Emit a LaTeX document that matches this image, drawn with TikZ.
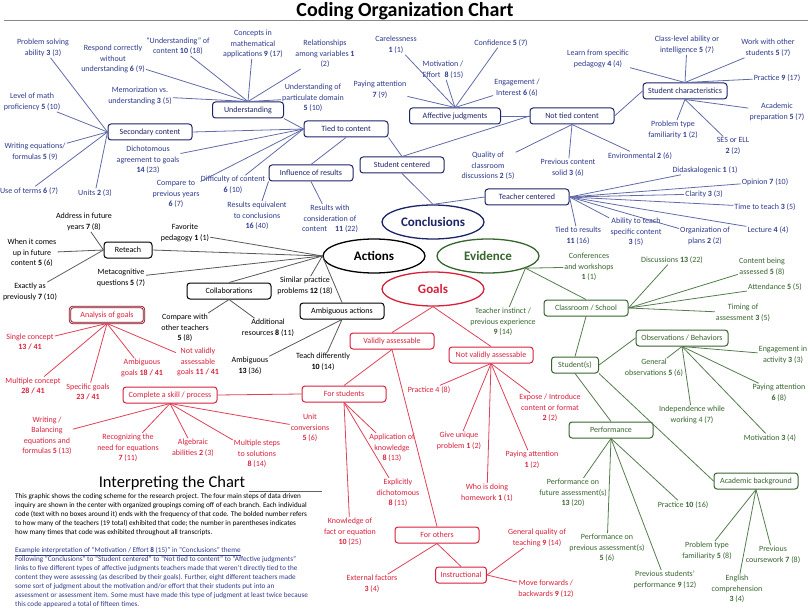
\documentclass[tikz,border=0pt]{standalone}
\usepackage{fontspec}
\setmainfont{Carlito}
\usetikzlibrary{shapes.geometric}
\definecolor{cocNavy}{HTML}{1B2466}
\definecolor{cocBlue}{HTML}{2E3A8C}
\definecolor{cocRed}{HTML}{D8203B}
\definecolor{cocDark}{HTML}{8B1020}
\definecolor{cocGreen}{HTML}{36652E}
\definecolor{cocGray}{HTML}{3A3A3A}
\tikzset{
  themenode/.style args={#1}{
    ellipse,
    draw=#1,
    fill=white,
    line width=1.3pt,
    minimum width=102pt,
    minimum height=34pt,
    text=#1,
    font=\fontsize{13}{15}\selectfont\bfseries
  },
  groupbox/.style args={#1}{
    rounded corners=3pt,
    draw=#1,
    fill=white,
    line width=1pt,
    minimum width=84pt,
    minimum height=16pt,
    inner xsep=5pt,
    inner ysep=2pt,
    text=#1,
    font=\fontsize{8}{10}\selectfont
  },
  codetext/.style args={#1}{
    text=#1,
    align=center,
    inner sep=1pt,
    font=\fontsize{8}{10.5}\selectfont
  },
  conclink/.style={draw=cocBlue!75, line width=0.8pt},
  actlink/.style={draw=cocGray!85, line width=0.8pt},
  goallink/.style={draw=cocRed!85, line width=0.8pt},
  evidlink/.style={draw=cocGreen!85, line width=0.8pt}
}

\begin{document}
\begin{tikzpicture}[x=1pt,y=-1pt]
\useasboundingbox (0,0) rectangle (810,612);

\node[font=\fontsize{20}{24}\selectfont\bfseries] (title) at (405,11) {Coding Organization Chart};
\draw[cocGray!60, line width=0.9pt] (4,20) -- (808,20);

% conclusions
\node[themenode=cocNavy] (concl) at (433,222) {Conclusions};
\node[groupbox=cocNavy, minimum width=71pt] (und) at (248,110) {Understanding};
\node[groupbox=cocNavy] (sec) at (150,132) {Secondary content};
\node[groupbox=cocNavy] (tied) at (346,129) {Tied to content};
\node[groupbox=cocNavy] (infl) at (311,173) {Influence of results};
\node[groupbox=cocNavy] (stuCen) at (402,165) {Student centered};
\node[groupbox=cocNavy] (tchCen) at (527,197) {Teacher centered};
\node[groupbox=cocNavy, minimum width=91pt] (affJ) at (455,116) {Affective judgments};
\node[groupbox=cocNavy] (notTied) at (572,116) {Not tied content};
\node[groupbox=cocNavy] (stuChar) at (685,91) {Student characteristics};

\node[codetext=cocBlue] (probSolv) at (43,48) {Problem solving\\ability \textbf{3} (3)};
\node[codetext=cocBlue] (respond) at (113,59) {Respond correctly\\without\\understanding \textbf{6} (9)};
\node[codetext=cocBlue] (undCont) at (178,46) {“Understanding” of\\content \textbf{10} (18)};
\node[codetext=cocBlue] (concepts) at (253,44) {Concepts in\\mathematical\\applications \textbf{9} (17)};
\node[codetext=cocBlue] (relVar) at (325,54) {Relationships\\among variables \textbf{1}\\(2)};
\node[codetext=cocBlue] (memo) at (140,96) {Memorization vs.\\understanding \textbf{3} (5)};
\node[codetext=cocBlue] (partDom) at (313,98) {Understanding of\\particulate domain\\\textbf{5} (10)};
\node[codetext=cocBlue] (mathLvl) at (32,102) {Level of math\\proficiency \textbf{5} (10)};
\node[codetext=cocBlue] (writeEq) at (35,152) {Writing equations/\\formulas \textbf{5} (9)};
\node[codetext=cocBlue] (terms) at (29,191) {Use of terms \textbf{6} (7)};
\node[codetext=cocBlue] (units) at (95,193) {Units \textbf{2} (3)};
\node[codetext=cocBlue] (dichot) at (148,160) {Dichotomous\\agreement to goals\\\textbf{14} (23)};
\node[codetext=cocBlue] (cmpPrev) at (176,194) {Compare to\\previous years\\\textbf{6} (7)};
\node[codetext=cocBlue] (diffCont) at (233,185) {Difficulty of content\\\textbf{6} (10)};
\node[codetext=cocBlue] (resEq) at (257,216) {Results equivalent\\to conclusions\\\textbf{16} (40)};
\node[codetext=cocBlue] (resCons) at (330,219) {Results with\\consideration of\\content\quad\textbf{11} (22)};
\node[codetext=cocBlue] (careless) at (396,45) {Carelessness\\\textbf{1} (1)};
\node[codetext=cocBlue] (motiv) at (443,70) {Motivation /\\Effort\enspace\textbf{8} (15)};
\node[codetext=cocBlue] (confid) at (501,43) {Confidence \textbf{5} (7)};
\node[codetext=cocBlue] (payAttB) at (380,90) {Paying attention\\\textbf{7} (9)};
\node[codetext=cocBlue] (engage) at (517,88) {Engagement /\\Interest \textbf{6} (6)};
\node[codetext=cocBlue] (learnPed) at (598,59) {Learn from specific\\pedagogy \textbf{4} (4)};
\node[codetext=cocBlue] (classAb) at (687,45) {Class-level ability or\\intelligence \textbf{5} (7)};
\node[codetext=cocBlue] (workOth) at (768,48) {Work with other\\students \textbf{5} (7)};
\node[codetext=cocBlue] (practB) at (777,78) {Practice \textbf{9} (17)};
\node[codetext=cocBlue] (acadPrep) at (777,112) {Academic\\preparation \textbf{5} (7)};
\node[codetext=cocBlue] (probFam) at (673,130) {Problem type\\familiarity \textbf{1} (2)};
\node[codetext=cocBlue] (sesEll) at (733,146) {SES or ELL\\\textbf{2} (2)};
\node[codetext=cocBlue] (quality) at (488,166) {Quality of\\classroom\\discussions \textbf{2} (5)};
\node[codetext=cocBlue] (prevSolid) at (568,168) {Previous content\\solid \textbf{3} (6)};
\node[codetext=cocBlue] (environ) at (640,156) {Environmental \textbf{2} (6)};
\node[codetext=cocBlue] (didask) at (705,170) {Didaskalogenic \textbf{1} (1)};
\node[codetext=cocBlue] (opinion) at (765,182) {Opinion \textbf{7} (10)};
\node[codetext=cocBlue] (clarity) at (704,194) {Clarity \textbf{3} (3)};
\node[codetext=cocBlue] (timeTeach) at (765,207) {Time to teach \textbf{3} (5)};
\node[codetext=cocBlue] (lecture) at (768,230) {Lecture \textbf{4} (4)};
\node[codetext=cocBlue] (orgPlans) at (705,236) {Organization of\\plans \textbf{2} (2)};
\node[codetext=cocBlue] (abilTeach) at (636,232) {Ability to teach\\specific content\\\textbf{3} (5)};
\node[codetext=cocBlue] (tiedRes) at (578,236) {Tied to results\\\textbf{11} (16)};

\draw[conclink] (stuCen.south) -- (concl.north);
\draw[conclink] (tchCen.west) -- (concl.north);
\draw[conclink] (tied.south east) -- (stuCen.north);
\draw[conclink] (notTied.west) -- (stuCen.north);
\draw[conclink] (affJ.east) -- (notTied.west);
\draw[conclink] (notTied.east) -- (stuChar.west);
\draw[conclink] (infl.north) -- (tied.south);
\draw[conclink] (und.south east) -- (tied.west);
\draw[conclink] (sec.east) -- (tied.west);
\draw[conclink] (tied.west) -- (dichot);
\draw[conclink] (tied.west) -- (cmpPrev);
\draw[conclink] (tied.west) -- (diffCont);
\draw[conclink] (sec.west) -- (probSolv);
\draw[conclink] (sec.west) -- (mathLvl);
\draw[conclink] (sec.west) -- (writeEq);
\draw[conclink] (sec.west) -- (terms);
\draw[conclink] (sec.west) -- (units);
\draw[conclink] (und.north) -- (respond);
\draw[conclink] (und.north) -- (undCont);
\draw[conclink] (und.north) -- (concepts);
\draw[conclink] (und.north) -- (relVar);
\draw[conclink] (und.north) -- (memo);
\draw[conclink] (und.north) -- (partDom);
\draw[conclink] (infl.south west) -- (resEq);
\draw[conclink] (infl.south) -- (resCons);
\draw[conclink] (affJ.north) -- (careless);
\draw[conclink] (affJ.north) -- (motiv);
\draw[conclink] (affJ.north) -- (confid);
\draw[conclink] (affJ.north) -- (payAttB);
\draw[conclink] (affJ.north) -- (engage);
\draw[conclink] (stuChar.north) -- (learnPed);
\draw[conclink] (stuChar.north) -- (classAb);
\draw[conclink] (stuChar.north) -- (workOth);
\draw[conclink] (stuChar.north) -- (practB);
\draw[conclink] (stuChar.south) -- (acadPrep);
\draw[conclink] (stuChar.south) -- (probFam);
\draw[conclink] (stuChar.south) -- (sesEll);
\draw[conclink] (notTied.south) -- (quality);
\draw[conclink] (notTied.south) -- (prevSolid);
\draw[conclink] (notTied.south) -- (environ);
\draw[conclink] (tchCen.east) -- (didask);
\draw[conclink] (tchCen.east) -- (opinion);
\draw[conclink] (tchCen.east) -- (clarity);
\draw[conclink] (tchCen.east) -- (timeTeach);
\draw[conclink] (tchCen.east) -- (lecture);
\draw[conclink] (tchCen.east) -- (orgPlans);
\draw[conclink] (tchCen.east) -- (abilTeach);
\draw[conclink] (tchCen.east) -- (tiedRes);

% actions
\node[themenode=black] (actions) at (374,256) {Actions};
\node[groupbox=black, minimum width=48pt] (reteach) at (128,250) {Reteach};
\node[groupbox=black] (collab) at (229,291) {Collaborations};
\node[groupbox=black] (ambAct) at (342,311) {Ambiguous actions};

\node[codetext=black] (addrFut) at (84,222) {Address in future\\years \textbf{7} (8)};
\node[codetext=black] (whenFut) at (32,253) {When it comes\\up in future\\content \textbf{5} (6)};
\node[codetext=black] (exactly) at (30,292) {Exactly as\\previously \textbf{7} (10)};
\node[codetext=black] (favPed) at (185,233) {Favorite\\pedagogy \textbf{1} (1)};
\node[codetext=black] (metacog) at (121,278) {Metacognitive\\questions \textbf{5} (7)};
\node[codetext=black] (simPrac) at (305,286) {Similar practice\\problems \textbf{12} (18)};
\node[codetext=black] (cmpTeach) at (185,328) {Compare with\\other teachers\\\textbf{5} (8)};
\node[codetext=black] (addRes) at (268,328) {Additional\\resources \textbf{8} (11)};
\node[codetext=black] (ambig) at (250,366) {Ambiguous\\\textbf{13} (36)};
\node[codetext=black] (teachDiff) at (323,362) {Teach differently\\\textbf{10} (14)};

\draw[actlink] (actions.west) -- (reteach.east);
\draw[actlink] (actions.west) -- (favPed);
\draw[actlink] (actions.west) -- (metacog);
\draw[actlink] (actions.west) -- (collab.north);
\draw[actlink] (actions.west) -- (simPrac);
\draw[actlink] (actions.west) -- (ambAct.north);
\draw[actlink] (reteach.west) -- (addrFut);
\draw[actlink] (reteach.west) -- (whenFut);
\draw[actlink] (reteach.west) -- (exactly);
\draw[actlink] (collab.south) -- (cmpTeach);
\draw[actlink] (collab.south) -- (addRes);
\draw[actlink] (ambAct.south) -- (ambig);
\draw[actlink] (ambAct.south) -- (teachDiff);

% goals
\node[themenode=cocRed] (goals) at (433,289) {Goals};
\node[groupbox=cocRed, draw=cocDark, double=white, double distance=0.6pt, line width=0.9pt, minimum width=74pt] (analysis) at (107,315) {Analysis of goals};
\node[groupbox=cocRed, minimum width=94pt] (complete) at (170,395) {Complete a skill / process};
\node[groupbox=cocRed] (forStu) at (344,394) {For students};
\node[groupbox=cocRed] (valid) at (392,341) {Validly assessable};
\node[groupbox=cocRed] (notValid) at (491,355) {Not validly assessable};
\node[groupbox=cocRed] (forOth) at (437,535) {For others};
\node[groupbox=cocRed, minimum width=50pt] (instr) at (461,575) {Instructional};

\node[codetext=cocRed] (single) at (30,342) {Single concept\\\textbf{13 / 41}};
\node[codetext=cocRed] (multi) at (33,386) {Multiple concept\\\textbf{28 / 41}};
\node[codetext=cocRed] (specific) at (88,392) {Specific goals\\\textbf{23 / 41}};
\node[codetext=cocRed] (ambGoals) at (142,368) {Ambiguous\\goals \textbf{18 / 41}};
\node[codetext=cocRed] (notValGoals) at (198,362) {Not validly\\assessable\\goals \textbf{11 / 41}};
\node[codetext=cocRed] (writeBal) at (47,436) {Writing /\\Balancing\\equations and\\formulas \textbf{5} (13)};
\node[codetext=cocRed] (recog) at (128,448) {Recognizing the\\need for equations\\\textbf{7} (11)};
\node[codetext=cocRed] (algebra) at (193,448) {Algebraic\\abilities \textbf{2} (3)};
\node[codetext=cocRed] (multSteps) at (257,454) {Multiple steps\\to solutions\\\textbf{8} (14)};
\node[codetext=cocRed] (unitConv) at (310,428) {Unit\\conversions\\\textbf{5} (6)};
\node[codetext=cocRed] (applKnow) at (392,448) {Application of\\knowledge\\\textbf{8} (13)};
\node[codetext=cocRed] (explDich) at (398,493) {Explicitly\\dichotomous\\\textbf{8} (11)};
\node[codetext=cocRed] (knowFact) at (350,532) {Knowledge of\\fact or equation\\\textbf{10} (25)};
\node[codetext=cocRed] (practR) at (429,390) {Practice 4 (8)};
\node[codetext=cocRed] (uniqueProb) at (459,441) {Give unique\\problem \textbf{1} (2)};
\node[codetext=cocRed] (homework) at (487,493) {Who is doing\\homework \textbf{1} (1)};
\node[codetext=cocRed] (payAttR) at (532,460) {Paying attention\\\textbf{1} (2)};
\node[codetext=cocRed] (expose) at (550,408) {Expose / Introduce\\content or format\\\textbf{2} (2)};
\node[codetext=cocRed] (extFac) at (372,584) {External factors\\\textbf{3} (4)};
\node[codetext=cocRed] (genQual) at (537,538) {General quality of\\teaching \textbf{9} (14)};
\node[codetext=cocRed] (moveFwd) at (546,589) {Move forwards /\\backwards \textbf{9} (12)};

\draw[goallink] (goals.south) -- (valid.north);
\draw[goallink] (goals.south) -- (notValid.north);
\draw[goallink] (valid.south) -- (forStu.north);
\draw[goallink] (valid.south) -- (forOth.north);
\draw[goallink] (complete.east) -- (forStu.west);
\draw[goallink] (analysis.south) -- (single);
\draw[goallink] (analysis.south) -- (multi);
\draw[goallink] (analysis.south) -- (specific);
\draw[goallink] (analysis.south) -- (ambGoals);
\draw[goallink] (analysis.south) -- (notValGoals);
\draw[goallink] (complete.south) -- (writeBal);
\draw[goallink] (complete.south) -- (recog);
\draw[goallink] (complete.south) -- (algebra);
\draw[goallink] (complete.south) -- (multSteps);
\draw[goallink] (complete.south) -- (unitConv);
\draw[goallink] (forStu.south) -- (applKnow);
\draw[goallink] (forStu.south) -- (explDich);
\draw[goallink] (forStu.south) -- (knowFact);
\draw[goallink] (notValid.south) -- (practR);
\draw[goallink] (notValid.south) -- (uniqueProb);
\draw[goallink] (notValid.south) -- (homework);
\draw[goallink] (notValid.south) -- (payAttR);
\draw[goallink] (notValid.south) -- (expose);
\draw[goallink] (forOth.south) -- (extFac);
\draw[goallink] (forOth.south) -- (instr.north);
\draw[goallink] (instr.east) -- (genQual);
\draw[goallink] (instr.east) -- (moveFwd);

% evidence
\node[themenode=cocGreen] (evid) at (488,256) {Evidence};
\node[groupbox=cocGreen] (classSch) at (586,308) {Classroom / School};
\node[groupbox=cocGreen, minimum width=47pt] (students) at (575,365) {Student(s)};
\node[groupbox=cocGreen, minimum width=92pt] (obs) at (682,338) {Observations / Behaviors};
\node[groupbox=cocGreen] (perf) at (611,430) {Performance};
\node[groupbox=cocGreen] (acad) at (756,481) {Academic background};

\node[codetext=cocGreen] (confWork) at (589,267) {Conferences\\and workshops\\\textbf{1} (1)};
\node[codetext=cocGreen] (teachInst) at (503,322) {Teacher instinct /\\previous experience\\\textbf{9} (14)};
\node[codetext=cocGreen] (discuss) at (672,260) {Discussions \textbf{13} (22)};
\node[codetext=cocGreen] (contAss) at (762,267) {Content being\\assessed \textbf{5} (8)};
\node[codetext=cocGreen] (attend) at (775,287) {Attendance \textbf{5} (5)};
\node[codetext=cocGreen] (timing) at (743,313) {Timing of\\assessment \textbf{3} (5)};
\node[codetext=cocGreen] (genObs) at (654,368) {General\\observations \textbf{5} (6)};
\node[codetext=cocGreen] (engAct) at (783,355) {Engagement in\\activity \textbf{3} (3)};
\node[codetext=cocGreen] (payAttG) at (779,393) {Paying attention\\\textbf{6} (8)};
\node[codetext=cocGreen] (indep) at (692,415) {Independence while\\working 4 (7)};
\node[codetext=cocGreen] (motivG) at (770,438) {Motivation \textbf{3} (4)};
\node[codetext=cocGreen] (perfFut) at (573,493) {Performance on\\future assessment(s)\\\textbf{13} (20)};
\node[codetext=cocGreen] (practG) at (683,505) {Practice \textbf{10} (16)};
\node[codetext=cocGreen] (perfPrev) at (607,548) {Performance on\\previous assessment(s)\\\textbf{5} (6)};
\node[codetext=cocGreen] (prevStud) at (665,580) {Previous students'\\performance \textbf{9} (12)};
\node[codetext=cocGreen] (probFamG) at (707,551) {Problem type\\familiarity \textbf{5} (8)};
\node[codetext=cocGreen] (english) at (737,589) {English\\comprehension\\\textbf{3} (4)};
\node[codetext=cocGreen] (prevCourse) at (773,555) {Previous\\coursework \textbf{7} (8)};

\draw[evidlink] (evid.-18) -- (confWork);
\draw[evidlink] (evid.-18) -- (classSch.north);
\draw[evidlink] (evid.-18) -- (teachInst);
\draw[evidlink] (classSch.east) -- (discuss);
\draw[evidlink] (classSch.east) -- (contAss);
\draw[evidlink] (classSch.east) -- (attend);
\draw[evidlink] (classSch.east) -- (timing);
\draw[evidlink] (classSch.south) -- (students.north);
\draw[evidlink] (students.east) -- (obs.west);
\draw[evidlink] (students.south) -- (perf.north);
\draw[evidlink] (students.south east) -- (acad.west);
\draw[evidlink] (obs.south) -- (genObs);
\draw[evidlink] (obs.south) -- (engAct);
\draw[evidlink] (obs.south) -- (payAttG);
\draw[evidlink] (obs.south) -- (indep);
\draw[evidlink] (obs.south) -- (motivG);
\draw[evidlink] (perf.south) -- (perfFut);
\draw[evidlink] (perf.south) -- (practG);
\draw[evidlink] (perf.south) -- (perfPrev);
\draw[evidlink] (perf.south) -- (prevStud);
\draw[evidlink] (acad.south) -- (probFamG);
\draw[evidlink] (acad.south) -- (english);
\draw[evidlink] (acad.south) -- (prevCourse);

% interpreting text
\node[font=\fontsize{16.5}{18}\selectfont] (interp) at (172,483) {Interpreting the Chart};
\draw[cocGray!80, line width=0.6pt] (interp.east |- 0,491) -- (322,491);
\node[anchor=north west, inner sep=0pt, align=left, font=\fontsize{7.2}{9}\selectfont] (intro) at (15,493.5) {This graphic shows the coding scheme for the research project. The four main steps of data driven\\inquiry are shown in the center with organized groupings coming off of each branch. Each individual\\code (text with no boxes around it) ends with the frequency of that code. The bolded number refers\\to how many of the teachers (19 total) exhibited that code; the number in parentheses indicates\\how many times that code was exhibited throughout all transcripts.};
\node[anchor=north west, inner sep=0pt, align=left, text=cocBlue, font=\fontsize{7.2}{9}\selectfont] (example) at (15,547.5) {\underline{Example interpretation of “Motivation / Effort \textbf{8} (15)” in “Conclusions” theme}\\Following “Conclusions” to “Student centered” to “Not tied to content” to “Affective judgments”\\links to five different types of affective judgments teachers made that weren’t directly tied to the\\content they were assessing (as described by their goals). Further, eight different teachers made\\some sort of judgment about the motivation and/or effort that their students put into an\\assessment or assessment item. Some must have made this type of judgment at least twice because\\this code appeared a total of fifteen times.};

\end{tikzpicture}
\end{document}
